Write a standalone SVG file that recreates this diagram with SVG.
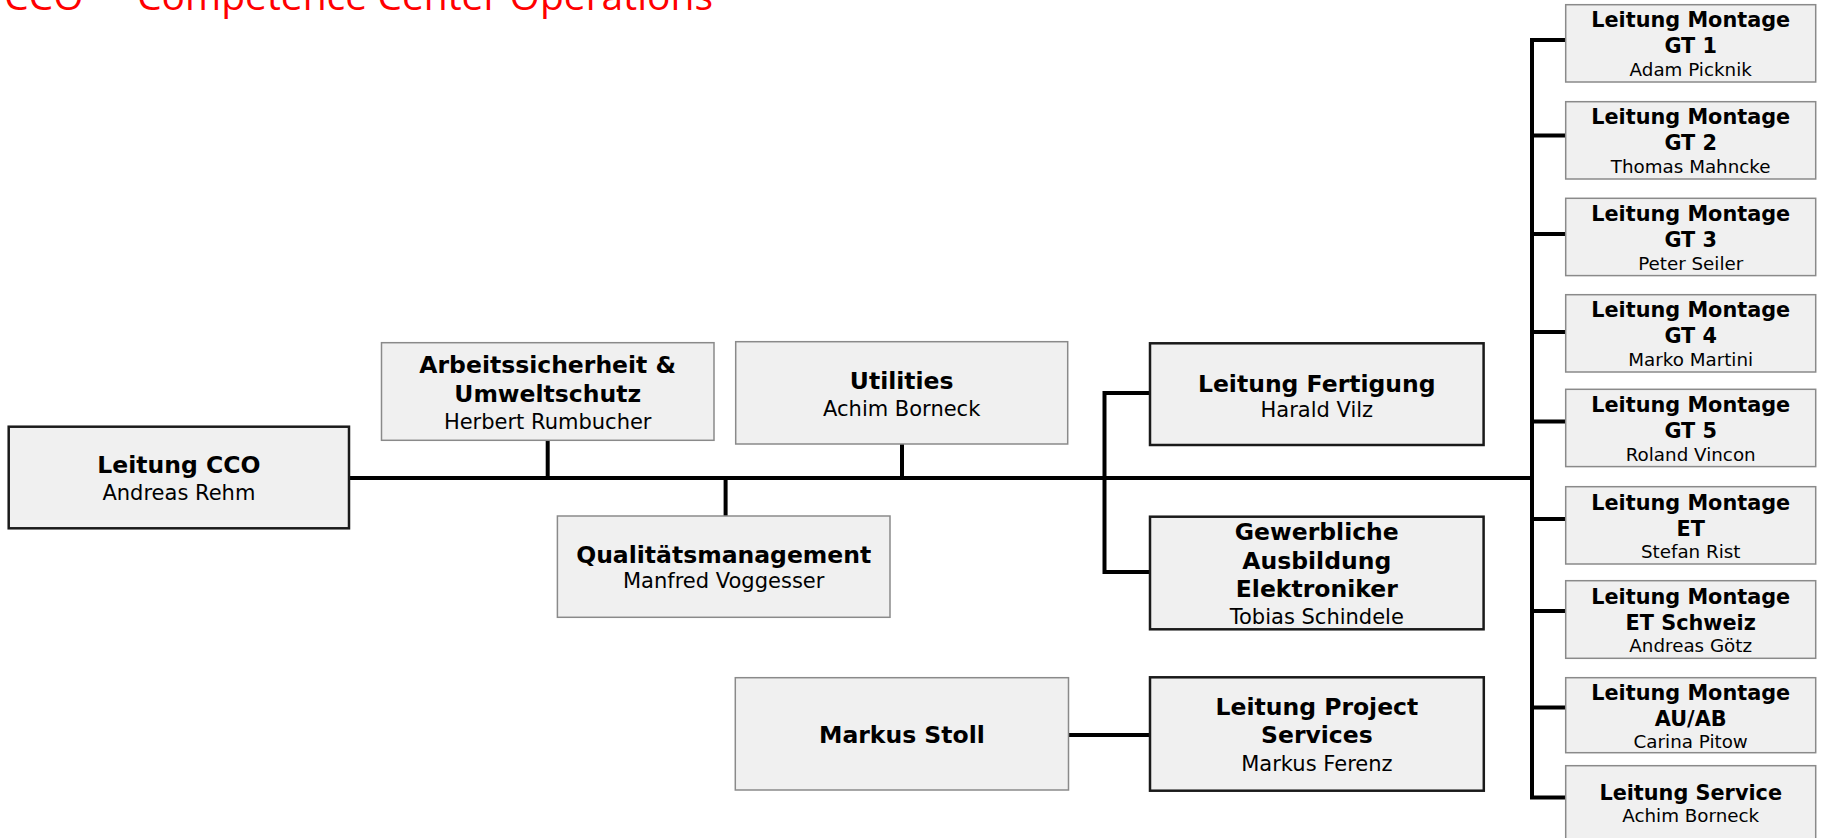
<svg xmlns="http://www.w3.org/2000/svg" width="1825" height="838" viewBox="0 0 1825 838">
<style>
.box{fill:#f0f0f0;stroke:#8a8a8a;stroke-width:1.5}
.dark{fill:#f0f0f0;stroke:#1a1a1a;stroke-width:2.5}
.b{font-family:"DejaVu Sans",Verdana,sans-serif;font-weight:bold;font-size:23.5px;fill:#000;text-anchor:middle}
.r{font-family:"DejaVu Sans",Verdana,sans-serif;font-size:21px;fill:#000;text-anchor:middle}
.bs{font-family:"DejaVu Sans",Verdana,sans-serif;font-weight:bold;font-size:20.8px;fill:#000;text-anchor:middle}
.rs{font-family:"DejaVu Sans",Verdana,sans-serif;font-size:18.3px;fill:#000;text-anchor:middle}
.title{font-family:"Open Sans","Noto Sans",sans-serif;font-size:39px;fill:#ff0000}
.conn{fill:none;stroke:#000;stroke-width:4}
</style>
<text class="title" y="9.5"><tspan x="4">CCO</tspan><tspan x="137">Competence Center Operations</tspan></text>
<g id="connectors">
<path class="conn" d="M349,478 H1532"/>
<path class="conn" d="M547.7,440 V478"/>
<path class="conn" d="M902,444 V478"/>
<path class="conn" d="M725.6,478 V516"/>
<path class="conn" d="M1150,393 H1104.5 V572 H1150"/>
<path class="conn" d="M1068.5,735 H1150"/>
<path class="conn" d="M1565.7,40 H1532 V797.5 H1565.7"/>
<path class="conn" d="M1532,135.5 H1565.7 M1532,234 H1565.7 M1532,332 H1565.7 M1532,421.5 H1565.7 M1532,519 H1565.7 M1532,611 H1565.7 M1532,707.5 H1565.7"/>
</g>
<g id="leitung-cco">
<rect class="dark" x="8.7" y="426.7" width="340.3" height="101.6"/>
<text class="b" x="178.9" y="473">Leitung CCO</text>
<text class="r" x="178.9" y="500">Andreas Rehm</text>
</g>
<g id="arbeitssicherheit">
<rect class="box" x="381.5" y="342.7" width="332.5" height="97.6"/>
<text class="b" x="547.7" y="373">Arbeitssicherheit &amp;</text>
<text class="b" x="547.7" y="402">Umweltschutz</text>
<text class="r" x="547.7" y="428.5">Herbert Rumbucher</text>
</g>
<g id="utilities">
<rect class="box" x="735.7" y="341.7" width="332" height="102.3"/>
<text class="b" x="901.7" y="389">Utilities</text>
<text class="r" x="901.7" y="416">Achim Borneck</text>
</g>
<g id="qualitaetsmanagement">
<rect class="box" x="557.4" y="516" width="332.6" height="101.3"/>
<text class="b" x="723.7" y="563">Qualitätsmanagement</text>
<text class="r" x="723.7" y="588">Manfred Voggesser</text>
</g>
<g id="leitung-fertigung">
<rect class="dark" x="1150" y="343.3" width="333.6" height="101.7"/>
<text class="b" x="1316.8" y="391.5">Leitung Fertigung</text>
<text class="r" x="1316.8" y="417">Harald Vilz</text>
</g>
<g id="gewerbliche-ausbildung">
<rect class="dark" x="1150" y="516.7" width="333.6" height="112.6"/>
<text class="b" x="1316.8" y="540">Gewerbliche</text>
<text class="b" x="1316.8" y="568.5">Ausbildung</text>
<text class="b" x="1316.8" y="596.5">Elektroniker</text>
<text class="r" x="1316.8" y="624">Tobias Schindele</text>
</g>
<g id="markus-stoll">
<rect class="box" x="735.3" y="677.7" width="333.2" height="112.3"/>
<text class="b" x="901.9" y="743">Markus Stoll</text>
</g>
<g id="leitung-project-services">
<rect class="dark" x="1150" y="677.3" width="333.8" height="113.4"/>
<text class="b" x="1316.9" y="715">Leitung Project</text>
<text class="b" x="1316.9" y="743">Services</text>
<text class="r" x="1316.9" y="771">Markus Ferenz</text>
</g>
<g id="montage-gt1">
<rect class="box" x="1565.7" y="4.7" width="250" height="77.3"/>
<text class="bs" x="1690.7" y="27.3">Leitung Montage</text>
<text class="bs" x="1690.7" y="53.3">GT 1</text>
<text class="rs" x="1690.7" y="76">Adam Picknik</text>
</g>
<g id="montage-gt2">
<rect class="box" x="1565.7" y="101.7" width="250" height="77.3"/>
<text class="bs" x="1690.7" y="124.3">Leitung Montage</text>
<text class="bs" x="1690.7" y="150.3">GT 2</text>
<text class="rs" x="1690.7" y="173">Thomas Mahncke</text>
</g>
<g id="montage-gt3">
<rect class="box" x="1565.7" y="198.3" width="250" height="77.3"/>
<text class="bs" x="1690.7" y="220.9">Leitung Montage</text>
<text class="bs" x="1690.7" y="246.9">GT 3</text>
<text class="rs" x="1690.7" y="269.6">Peter Seiler</text>
</g>
<g id="montage-gt4">
<rect class="box" x="1565.7" y="294.7" width="250" height="77.3"/>
<text class="bs" x="1690.7" y="317.3">Leitung Montage</text>
<text class="bs" x="1690.7" y="343.3">GT 4</text>
<text class="rs" x="1690.7" y="366">Marko Martini</text>
</g>
<g id="montage-gt5">
<rect class="box" x="1565.7" y="389.3" width="250" height="77.3"/>
<text class="bs" x="1690.7" y="411.9">Leitung Montage</text>
<text class="bs" x="1690.7" y="437.9">GT 5</text>
<text class="rs" x="1690.7" y="460.6">Roland Vincon</text>
</g>
<g id="montage-et">
<rect class="box" x="1565.7" y="486.7" width="250" height="77.3"/>
<text class="bs" x="1690.7" y="509.5">Leitung Montage</text>
<text class="bs" x="1690.7" y="535.5">ET</text>
<text class="rs" x="1690.7" y="558.2">Stefan Rist</text>
</g>
<g id="montage-et-schweiz">
<rect class="box" x="1565.7" y="580.7" width="250" height="77.6"/>
<text class="bs" x="1690.7" y="603.5">Leitung Montage</text>
<text class="bs" x="1690.7" y="629.5">ET Schweiz</text>
<text class="rs" x="1690.7" y="652.2">Andreas Götz</text>
</g>
<g id="montage-au-ab">
<rect class="box" x="1565.7" y="677.7" width="250" height="75"/>
<text class="bs" x="1690.7" y="700">Leitung Montage</text>
<text class="bs" x="1690.7" y="725.5">AU/AB</text>
<text class="rs" x="1690.7" y="747.5">Carina Pitow</text>
</g>
<g id="leitung-service">
<rect class="box" x="1565.7" y="765.7" width="250" height="85"/>
<text class="bs" x="1690.7" y="800">Leitung Service</text>
<text class="rs" x="1690.7" y="822.3">Achim Borneck</text>
</g>
</svg>
